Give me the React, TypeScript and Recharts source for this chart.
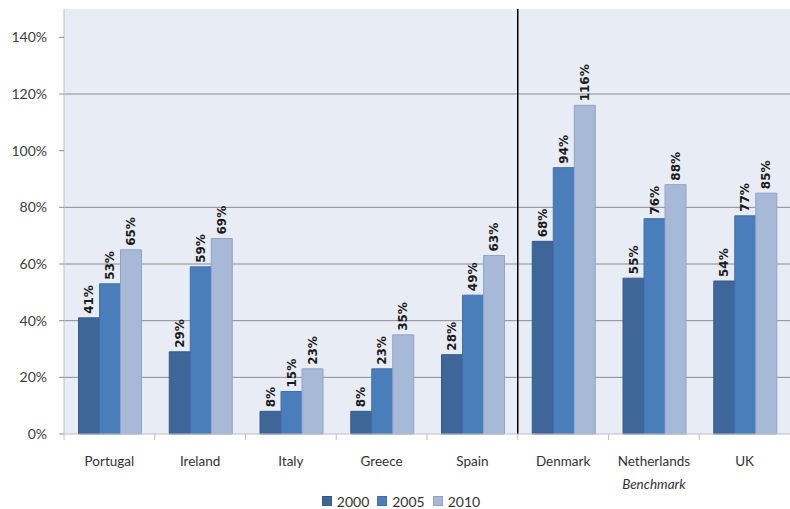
import { Bar, BarChart, CartesianGrid, LabelList, Legend, ReferenceLine, XAxis, YAxis } from "recharts"

// Values (percent)
const countries = ["Portugal", "Ireland", "Italy", "Greece", "Spain", "Denmark", "Netherlands", "UK"]
const y2000 = [41, 29, 8, 8, 28, 68, 55, 54]
const y2005 = [53, 59, 15, 23, 49, 94, 76, 77]
const y2010 = [65, 69, 23, 35, 63, 116, 88, 85]
const yTicks = [0, 20, 40, 60, 80, 100, 120, 140]
const gridValues = [20, 40, 60, 80, 120]
const yMax = 150

const series = [
  { key: "y2000", name: "2000", fill: "#3E6699", stroke: "#365B8A" },
  { key: "y2005", name: "2005", fill: "#4A7EBB", stroke: "#416FA8" },
  { key: "y2010", name: "2010", fill: "#A8B9D8", stroke: "#8EA4CB" },
]

const data = countries.map((c, i) => ({
  country: c,
  y2000: y2000[i],
  y2005: y2005[i],
  y2010: y2010[i],
}))

const FONT = "Lato, 'Open Sans', sans-serif"

const BarLabel = (props: any) => {
  const { x, y, width, value } = props
  return (
    <text
      transform={`translate(${x + width / 2}, ${y - 4}) rotate(-90)`}
      textAnchor="start"
      dominantBaseline="central"
      fontFamily="'DejaVu Sans', sans-serif"
      fontWeight="bold"
      fontSize={12}
      fill="#1a1a1a"
    >
      {value}%
    </text>
  )
}

const CategoryTick = (props: any) => {
  const { x, y, payload } = props
  const half = payload.offset ?? 45.4
  return (
    <g>
      <line x1={x - half} x2={x - half} y1={y} y2={y + 6} stroke="#BFBFBF" />
      <text x={x} y={y + 27} textAnchor="middle" dominantBaseline="central" fontFamily={FONT} fontSize={13.5} fill="#333">
        {payload.value}
      </text>
    </g>
  )
}

const LegendContent = () => (
  <div style={{ display: "flex", justifyContent: "center", alignItems: "center", height: 16, fontFamily: FONT, fontSize: 14, color: "#333", paddingLeft: 20 }}>
    {series.map((s) => (
      <span key={s.key} style={{ display: "inline-flex", alignItems: "center", marginRight: 8 }}>
        <span style={{ width: 8, height: 8, background: s.fill, border: `1px solid ${s.stroke}`, marginRight: 5 }} />
        {s.name}
      </span>
    ))}
  </div>
)

const BenchmarkLabel = (props: any) => {
  const { viewBox } = props
  return (
    <text
      x={viewBox.x}
      y={viewBox.y + viewBox.height + 50}
      textAnchor="middle"
      dominantBaseline="central"
      fontFamily={FONT}
      fontStyle="italic"
      fontSize={13.5}
      fill="#333"
    >
      Benchmark
    </text>
  )
}

// only some of the value lines are drawn in the original
const gridLines = ({ offset }: any) =>
  gridValues.map((v) => offset.top + offset.height * (1 - v / yMax))

export default function App() {
  return (
    <div style={{ width: 790, height: 509, background: "#fff" }}>
      <style>{`body{margin:0}`}</style>
      <BarChart
        width={790}
        height={509}
        data={data}
        margin={{ top: 9, right: 0, left: 0, bottom: 0 }}
        barCategoryGap="16%"
        barGap={0}
      >
        <CartesianGrid
          vertical={false}
          horizontalCoordinatesGenerator={gridLines}
          stroke="#8C8C8C"
          fill="#E8ECF5"
          fillOpacity={1}
        />
        <XAxis
          dataKey="country"
          height={59}
          interval={0}
          tickLine={false}
          tickSize={0}
          tickMargin={0}
          axisLine={{ stroke: "#BFBFBF" }}
          tick={<CategoryTick />}
        />
        <YAxis
          width={64}
          domain={[0, yMax]}
          ticks={yTicks}
          interval={0}
          tickFormatter={(v) => `${v}%`}
          axisLine={{ stroke: "#BFBFBF" }}
          tickLine={{ stroke: "#8C8C8C" }}
          tickSize={5}
          tickMargin={12}
          tick={{ fontFamily: FONT, fontSize: 14, fill: "#404040" }}
        />
        <Legend verticalAlign="bottom" content={<LegendContent />} />
        {series.map((s) => (
          <Bar key={s.key} dataKey={s.key} name={s.name} fill={s.fill} stroke={s.stroke} strokeWidth={1} isAnimationActive={false}>
            <LabelList dataKey={s.key} content={<BarLabel />} />
          </Bar>
        ))}
        <ReferenceLine x="Denmark" position="start" stroke="#000" strokeWidth={1.5} />
        <ReferenceLine x="Netherlands" stroke="none" label={<BenchmarkLabel />} />
      </BarChart>
    </div>
  )
}
